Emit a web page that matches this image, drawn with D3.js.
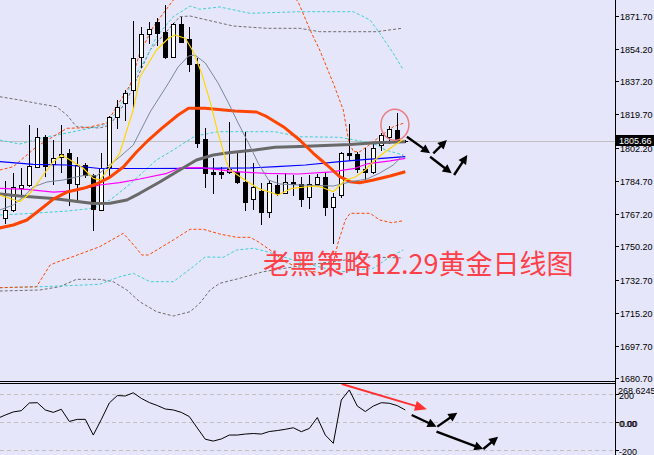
<!DOCTYPE html>
<html><head><meta charset="utf-8">
<script src="https://cdn.jsdelivr.net/npm/d3@7"></script>
<style>html,body{margin:0;padding:0;background:#E6E6FA;}svg{display:block;}</style>
</head><body>
<svg id="chart" width="654" height="455"></svg>
<script>
// ---------------- DATA ----------------
const opens  = [1764.98,1769.35,1781.10,1782.52,1792.16,1807.65,1793.58,1797.43,1799.53,1783.05,1793.05,1787.79,1769.35,1792.16,1818.18,1825.56,1832.56,1849.79,1861.90,1868.22,1862.96,1850.10,1867.33,1859.43,1846.26,1806.75,1789.53,1789.53,1789.53,1789.53,1784.26,1774.99,1779.52,1768.45,1782.52,1778.46,1784.26,1782.89,1776.04,1783.05,1786.58,1771.09,1777.25,1799.53,1798.85,1790.79,1789.21,1803.59,1807.65,1811.49,1805.66];
const highs  = [1784.78,1788.68,1791.32,1814.12,1812.39,1808.86,1806.22,1814.12,1801.48,1797.43,1794.11,1788.31,1799.22,1818.87,1827.29,1832.56,1868.91,1865.91,1868.54,1870.33,1877.34,1867.85,1871.17,1865.91,1849.26,1812.39,1796.58,1792.16,1815.55,1799.22,1810.60,1794.27,1783.41,1785.15,1787.79,1788.68,1787.79,1786.89,1787.79,1788.31,1789.53,1778.15,1800.06,1814.65,1800.06,1801.85,1804.80,1809.75,1813.60,1820.60,1806.40];
const lows   = [1762.34,1768.82,1777.25,1781.99,1792.00,1787.26,1783.05,1789.37,1771.98,1774.25,1786.73,1758.82,1769.09,1787.79,1812.39,1816.76,1823.76,1844.84,1857.16,1856.27,1849.68,1849.94,1857.85,1842.73,1802.69,1781.62,1778.46,1786.05,1788.68,1783.73,1769.35,1769.72,1761.97,1765.82,1777.25,1778.15,1777.25,1771.46,1770.25,1781.99,1766.72,1752.13,1776.04,1795.69,1789.53,1785.15,1788.84,1800.96,1804.64,1805.33,1805.10];
const closes = [1769.35,1781.62,1782.36,1792.53,1807.65,1792.53,1796.58,1798.85,1783.41,1793.05,1787.79,1769.72,1791.32,1818.18,1823.76,1831.14,1849.26,1862.06,1864.54,1862.43,1849.79,1867.33,1858.00,1846.26,1804.48,1788.68,1788.16,1788.31,1790.79,1784.26,1773.72,1781.31,1768.45,1783.73,1778.46,1783.94,1782.89,1774.99,1783.05,1786.58,1770.77,1776.36,1799.22,1798.16,1790.79,1789.53,1801.85,1808.86,1811.86,1805.86,1805.66];
const lastPrice = 1805.66;

// moving averages [barIndex, price]
const maYellow = [[-0.7,1777.25],[1.8,1773.72],[3.1,1778.15],[4.75,1787.79],[6,1794.8],[7.05,1798.32],[8.1,1795.69],[9.75,1791.32],[11,1786.05],[11.84,1785.15],[13.1,1792.16],[14.3,1799.22],[15.2,1811.49],[16,1822.03],[16.84,1839.57],[17.9,1846.63],[18.9,1853.63],[20.4,1859.8],[21.2,1861.53],[22.5,1859.8],[23.5,1852.74],[24.55,1841.36],[25.6,1826.4],[26.6,1809.75],[27.7,1793.95],[28.1,1790.42],[29.96,1785.15],[31.6,1780.78],[33.3,1778.46],[34.1,1777.25],[35.8,1780.78],[38.7,1781.99],[39.55,1781.31],[41,1778.99],[42.5,1785.15],[43.7,1786.58],[45,1790.42],[46.2,1795.69],[47.5,1800.06],[48.7,1803.59],[49.7,1806.5]];
const maSlate = [[-0.7,1769.35],[1,1771.98],[2.25,1776.2],[3.5,1781.5],[5.2,1784.1],[7.25,1785.15],[8.9,1786.8],[10.2,1787.79],[11.4,1787.26],[12.7,1792.0],[14.3,1797.3],[16,1803.59],[18.1,1820.97],[20.4,1836.2],[21.6,1844.7],[22.9,1850.47],[23.7,1851.0],[25,1846.8],[26.6,1836.2],[27.9,1825.7],[29.1,1815.2],[30.4,1804.6],[31.6,1794.1],[32.9,1785.15],[34.3,1783.05],[36.8,1782.52],[41,1781.99],[43.1,1784.1],[45.2,1785.7],[46.8,1788.8],[48.5,1793.05],[49.75,1798.3]];
const maOrange = [[-0.7,1759.9],[1,1761.45],[2.7,1764.08],[4.3,1769.35],[6,1775.1],[7.7,1778.8],[9.75,1780.78],[11.4,1783.05],[13.1,1786.7],[14.75,1792.0],[16.4,1799.9],[17.9,1806.22],[19.55,1812.39],[21.6,1819.39],[22.9,1822.92],[24.96,1822.92],[28.7,1821.5],[31.4,1820.97],[32.7,1818.5],[34.75,1813.23],[36.8,1806.22],[38.5,1799.22],[40.2,1793.05],[41.8,1786.89],[43.1,1784.26],[44.3,1783.73],[46,1785.15],[48.1,1787.26],[50,1789.53]];
const maDimGray = [[-0.7,1777.78],[1.8,1776.73],[6,1775.4],[8.5,1774.1],[11,1772.8],[13.1,1772.88],[15.2,1774.62],[16.8,1778.15],[19.3,1784.1],[21.8,1790.42],[23.9,1795.69],[26,1798.32],[27.9,1799.53],[31.2,1800.96],[33.7,1802.38],[36.8,1802.8],[43.1,1803.85],[46.2,1804.8],[50,1805.33]];
const maBlue = [[-0.7,1794.8],[3.5,1793.43],[7.7,1793.05],[11.8,1791.2],[16.8,1791.2],[24.3,1791.32],[30.6,1791.5],[33.9,1792.16],[37.5,1793.05],[41.8,1794.8],[45.2,1796.06],[47.05,1796.58],[50,1797.43]];
const maMagenta = [[-0.7,1780.78],[2.7,1780.25],[6,1778.8],[8.5,1779.4],[11.8,1782.52],[14.3,1783.8],[16.8,1785.68],[20.2,1788.68],[21.8,1791.5],[24.55,1791.63],[28.7,1789.53],[32.7,1788.6],[36.6,1788.31],[40.8,1789.4],[43.7,1791.32],[45.2,1793.6],[48.1,1795.2],[50,1796.5]];

// band lines (dashed)
const bbOrangeUp = [[-0.7,1790.4],[1,1792.16],[3.9,1802.69],[7.7,1812.39],[10.2,1812.7],[12.7,1815.18],[13.9,1823.76],[15.6,1835.2],[16.8,1851.89],[18.5,1865.9],[21,1879.97],[24,1892],[33,1895],[36.6,1879.1],[38.1,1864.17],[39.3,1853.63],[41,1836.09],[42.25,1822.03],[42.9,1806.22],[43.5,1800.06],[44.3,1800.06],[45.2,1802.69],[46.8,1807.96],[48.5,1813.23],[49.75,1815.02]];
const bbOrangeLow = [[-0.7,1728.42],[3.9,1728.94],[5.6,1740.38],[6.6,1742.12],[8.1,1744.23],[11.8,1750.02],[14.75,1757.08],[16.4,1749.18],[17.05,1745.65],[17.9,1745.65],[21,1753.55],[23.1,1759.19],[24.75,1759.19],[26.8,1756.7],[28.9,1754.97],[30.6,1754.97],[31.6,1752.65],[33.1,1748.28],[35,1742],[37.5,1737.5],[40,1736],[41,1741.5],[41.6,1752.13],[42.5,1764.08],[43.1,1767.61],[45.6,1767.61],[46.8,1764.08],[48.3,1762.66],[49.75,1763.7]];
const bbTurqUp = [[-0.7,1806.22],[1.8,1804.1],[4.75,1807.5],[7.7,1809.9],[10.6,1812.39],[12.25,1814.12],[13.1,1816.2],[14.3,1823.76],[15.2,1830.82],[16.4,1841.36],[17.7,1850.1],[18.9,1860.64],[21,1871.17],[23.1,1876.81],[24.3,1875.1],[26.8,1876.3],[30.6,1872.96],[36.8,1873.8],[43.5,1873.8],[45.6,1869.44],[46.8,1862.43],[48.5,1851.89],[49.75,1843.1]];
const bbTurqMid = [[-0.7,1766.72],[3.5,1767.61],[7.7,1768.8],[11,1770.25],[13.1,1774.62],[15.2,1781.62],[17.25,1789.4],[18.9,1795.69],[21,1800.96],[23.7,1808.3],[26.6,1810.6],[33.7,1810.6],[36.8,1807.96],[41.8,1807.65],[46,1804.48],[47.5,1800.96],[49.75,1798.32]];
const bbTurqLow = [[-0.7,1728.42],[4.3,1728.94],[7.7,1729.47],[11.8,1730.21],[14.3,1734.21],[16,1736],[18.1,1731.58],[21,1731.58],[23.5,1739.49],[24.96,1744.6],[27.25,1744.44],[28.9,1748.28],[31,1749.18],[32.7,1747.4],[36.8,1741.9],[41.8,1736.7],[46,1738.64],[48.1,1744.75],[49.75,1748.28]];
const bbGrayUp = [[-0.7,1829.03],[1.8,1827.29],[3.9,1825.56],[6.4,1823.76],[7.7,1819.39],[8.9,1813.23],[11.8,1812.55],[13.1,1814.12],[15.2,1827.29],[18.1,1853.63],[21.8,1871.17],[23.1,1871.54],[25.2,1869.44],[28.5,1866.27],[32.7,1865.06],[36.8,1865.06],[39.3,1863.27],[46.4,1863.27],[49.55,1865.06]];
const bbGrayLow = [[-0.7,1726.68],[4.3,1727.21],[6.8,1728.94],[8.9,1732.84],[11.8,1732.84],[13.5,1731.58],[15.2,1727.21],[16.8,1721.05],[18.9,1715.78],[21,1713.51],[23.1,1715.78],[24.3,1720.2],[25.6,1727.21],[26.8,1730.73],[29.3,1733.37],[32.25,1736.85],[36.8,1739.9],[42.5,1743],[45.6,1744.6],[49.7,1744.07]];

// CCI values, first value belongs to bar index -1
const cciStart = -1;
const cciValues = [27,52,74,83,138,140,88,71,93,6,21,21,-91,20,138,191,188,211,171,141,120,95,88,71,41,-41,-121,-134,-119,-91,-91,-84,-80,-84,-66,-59,-50,-39,-67,-44,34,-91,-150,159,231,116,77,116,140,136,119,88];

const priceTicks = [1871.70,1854.20,1837.20,1819.70,1802.20,1784.70,1767.20,1750.20,1732.70,1715.20,1697.70,1680.70];
const cciTicks = [200,0,-200];
const cciMaxLabel = "268.6245";
const titleText = "老黑策略12.29黄金日线图";

// annotation arrows [barIndex, value]
const mainArrows = [[[50.2,1807.96],[53.1,1799.22]],[[53.5,1799.22],[55.2,1806.22]],[[53.1,1797.43],[55.8,1788.68]],[[56.1,1787.79],[57.75,1798.32]]];
const cciArrowsBlack = [[[50.8,52],[53.9,-31]],[[54.0,-31],[56.5,69]],[[53.9,-67],[59.75,-191]],[[59.75,-191],[61.6,-103]]];
const cciArrowRed = [[42.05,274],[52.7,93]];
const circleAt = [48.7,1814.3];

// ---------------- LAYOUT ----------------
const svg = d3.select('#chart');
const axisX = 615;
const x = d3.scaleLinear().domain([0,50]).range([5.3,405.3]);
const y = d3.scaleLinear().domain([1680.7,1871.7]).range([378.3,15.7]);
const yc = d3.scaleLinear().domain([-200,200]).range([450.3,394.3]);

svg.append('rect').attr('width',654).attr('height',455).attr('fill','#E6E6FA');

const defs = svg.append('defs');
defs.append('clipPath').attr('id','clipMain').append('rect').attr('x',0).attr('y',0).attr('width',axisX).attr('height',381);
defs.append('clipPath').attr('id','clipSub').append('rect').attr('x',0).attr('y',384).attr('width',axisX).attr('height',71);

const main = svg.append('g').attr('clip-path','url(#clipMain)');
const sub = svg.append('g').attr('clip-path','url(#clipSub)');

// current price line
main.append('line').attr('x1',0).attr('x2',axisX).attr('y1',Math.round(y(lastPrice))+0.5).attr('y2',Math.round(y(lastPrice))+0.5)
  .attr('stroke','#C0C0C0').attr('stroke-width',1);

const line = d3.line().x(d=>x(d[0])).y(d=>y(d[1]));
function drawLine(g, data, color, w, dash){
  const p = g.append('path').attr('d',line(data)).attr('fill','none').attr('stroke',color).attr('stroke-width',w).attr('stroke-linejoin','round');
  if(dash) p.attr('stroke-dasharray',dash);
  return p;
}
// bands
drawLine(main,bbGrayUp,'#6E6E6E',1,'3,2');
drawLine(main,bbGrayLow,'#6E6E6E',1,'3,2');
drawLine(main,bbTurqUp,'#40D0D0',1,'3,2');
drawLine(main,bbTurqMid,'#40D0D0',1,'3,2');
drawLine(main,bbTurqLow,'#40D0D0',1,'3,2');
drawLine(main,bbOrangeUp,'#FF4500',1,'3,2');
drawLine(main,bbOrangeLow,'#FF4500',1,'3,2');

// candles
const candles = d3.range(opens.length).map(i=>({i,o:opens[i],h:highs[i],l:lows[i],c:closes[i]}));
const cg = main.append('g').attr('shape-rendering','crispEdges');
cg.selectAll('line.wick').data(candles).join('line').attr('class','wick')
  .attr('x1',d=>Math.round(x(d.i))+0.5).attr('x2',d=>Math.round(x(d.i))+0.5)
  .attr('y1',d=>Math.round(y(d.h))).attr('y2',d=>Math.round(y(d.l))+1)
  .attr('stroke','#000');
cg.selectAll('rect.body').data(candles.filter(d=>Math.abs(y(d.o)-y(d.c))>=1)).join('rect').attr('class','body')
  .attr('x',d=>Math.round(x(d.i))-1.5).attr('width',4)
  .attr('y',d=>Math.round(y(Math.max(d.o,d.c)))+0.5)
  .attr('height',d=>Math.max(1,Math.round(y(Math.min(d.o,d.c)))-Math.round(y(Math.max(d.o,d.c)))))
  .attr('fill',d=>d.c>=d.o?'#FFFFFF':'#000000').attr('stroke','#000');
cg.selectAll('line.doji').data(candles.filter(d=>Math.abs(y(d.o)-y(d.c))<1)).join('line').attr('class','doji')
  .attr('x1',d=>Math.round(x(d.i))-2).attr('x2',d=>Math.round(x(d.i))+3)
  .attr('y1',d=>Math.round(y(d.c))+0.5).attr('y2',d=>Math.round(y(d.c))+0.5).attr('stroke','#000');

// moving averages
drawLine(main,maBlue,'#0000FF',1.2);
drawLine(main,maMagenta,'#FF00FF',1.2);
drawLine(main,maDimGray,'#696969',3);
drawLine(main,maOrange,'#FF4500',3);
drawLine(main,maSlate,'#7A8899',1);
drawLine(main,maYellow,'#FFD700',1.2);

// red circle
main.append('ellipse').attr('cx',x(circleAt[0])).attr('cy',y(circleAt[1])).attr('rx',14).attr('ry',15.5)
  .attr('fill','none').attr('stroke','#EC7C84').attr('stroke-width',1.5);

// arrows
function arrow(g, x1,y1,x2,y2,color,w,hl,hw){
  const dx=x2-x1, dy=y2-y1, L=Math.hypot(dx,dy), ux=dx/L, uy=dy/L;
  const bx=x2-ux*hl, by=y2-uy*hl;
  g.append('line').attr('x1',x1).attr('y1',y1).attr('x2',bx+ux*1).attr('y2',by+uy*1)
    .attr('stroke',color).attr('stroke-width',w);
  g.append('path').attr('d',`M${x2},${y2}L${bx-uy*hw},${by+ux*hw}L${bx+uy*hw},${by-ux*hw}Z`).attr('fill',color);
}
const ann = svg.append('g');
mainArrows.forEach(a=>arrow(ann,x(a[0][0]),y(a[0][1]),x(a[1][0]),y(a[1][1]),'#000',2.4,9,4.5));

// title text
svg.append('text').attr('x',263).attr('y',274).text(titleText)
  .attr('font-family','"Noto Sans CJK SC","Noto Sans CJK JP",sans-serif').attr('font-size',27)
  .attr('fill','#FF4048');

// ---------------- AXES ----------------
svg.append('line').attr('x1',axisX+0.5).attr('x2',axisX+0.5).attr('y1',0).attr('y2',455).attr('stroke','#000').attr('shape-rendering','crispEdges');
const axg = svg.append('g').attr('font-family','"Liberation Sans",Arial,sans-serif').attr('font-size',9).attr('fill','#000');
priceTicks.forEach(t=>{
  const yy=Math.round(y(t))+0.5;
  axg.append('line').attr('x1',axisX).attr('x2',axisX+4).attr('y1',yy).attr('y2',yy).attr('stroke','#000').attr('shape-rendering','crispEdges');
  axg.append('text').attr('x',620).attr('y',yy).attr('dy','0.35em').text(t.toFixed(2));
});
// current price box
const yl = y(lastPrice);
svg.append('rect').attr('x',616).attr('y',Math.round(yl)-6).attr('width',38).attr('height',11).attr('fill','#000');
svg.append('text').attr('x',619).attr('y',Math.round(yl)).attr('dy','0.35em').text(lastPrice.toFixed(2))
  .attr('font-family','"Liberation Sans",Arial,sans-serif').attr('font-size',9).attr('fill','#fff');

// separator
svg.append('line').attr('x1',0).attr('x2',axisX).attr('y1',381.5).attr('y2',381.5).attr('stroke','#000');
svg.append('line').attr('x1',0).attr('x2',axisX).attr('y1',383.5).attr('y2',383.5).attr('stroke','#000');

// ---------------- CCI PANEL ----------------
cciTicks.forEach(t=>{
  sub.append('line').attr('x1',0).attr('x2',axisX).attr('y1',Math.round(yc(t))+0.5).attr('y2',Math.round(yc(t))+0.5)
    .attr('stroke','#C0C0C0').attr('stroke-dasharray','4,3');
});
const cciLine = d3.line().x((d,i)=>x(i+cciStart)).y(d=>yc(d));
sub.append('path').attr('d',cciLine(cciValues)).attr('fill','none').attr('stroke','#000').attr('stroke-width',1);

cciTicks.forEach(t=>{
  const yy=Math.round(yc(t))+0.5;
  axg.append('line').attr('x1',axisX).attr('x2',axisX+4).attr('y1',yy).attr('y2',yy).attr('stroke','#000');
  axg.append('text').attr('x',619).attr('y',yy+1).attr('dy','0.35em').text(t===0?'0.00':String(t));
});
axg.append('text').attr('x',620).attr('y',Math.round(yc(0))+1.5).attr('dy','0.35em').text('0.00');
axg.append('text').attr('x',618).attr('y',391).attr('dy','0.35em').text(cciMaxLabel);

arrow(ann,x(cciArrowRed[0][0]),yc(cciArrowRed[0][1]),x(cciArrowRed[1][0]),yc(cciArrowRed[1][1]),'#FF3030',2,12,5);
cciArrowsBlack.forEach(a=>arrow(ann,x(a[0][0]),yc(a[0][1]),x(a[1][0]),yc(a[1][1]),'#000',2.4,9,4.5));
</script>
</body></html>
